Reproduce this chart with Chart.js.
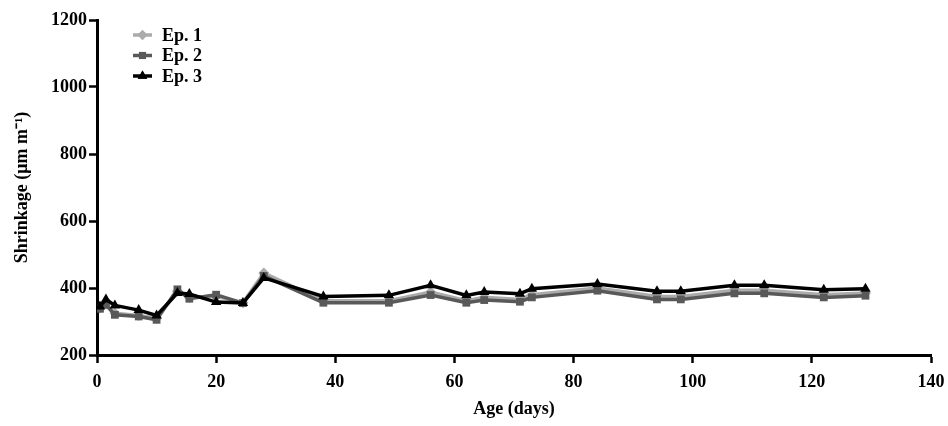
<!DOCTYPE html>
<html>
<head>
<meta charset="utf-8">
<script src="https://cdn.jsdelivr.net/npm/chart.js@4"></script>
<style>
html,body{margin:0;padding:0;background:#fff;}
canvas{display:block;}
</style>
</head>
<body>
<canvas id="c" width="948" height="426"></canvas>
<script>
const days = [0.5, 1.5, 3, 7, 10, 13.5, 15.5, 20, 24.5, 28, 38, 49, 56, 62, 65, 71, 73, 84, 94, 98, 107, 112, 122, 129];
const ep1 = [340, 352, 325, 318, 310, 390, 372, 375, 356, 445, 362, 362, 388, 362, 372, 366, 380, 400, 375, 375, 393, 393, 380, 385];
const ep2 = [338, 350, 320, 315, 305, 396, 368, 380, 355, 436, 356, 356, 379, 356, 364, 359, 372, 392, 366, 366, 384, 384, 372, 377];
const ep3 = [345, 366, 348, 334, 318, 385, 382, 358, 355, 430, 375, 378, 408, 378, 388, 383, 398, 412, 390, 390, 408, 408, 395, 398];
const seriesLabels = ['Ep. 1', 'Ep. 2', 'Ep. 3'];
const xTickValues = [0, 20, 40, 60, 80, 100, 120, 140];
const yTickValues = [200, 400, 600, 800, 1000, 1200];

const FONT = "'Liberation Serif', 'Times New Roman', serif";
const pts = (arr) => arr.map((v, i) => ({x: days[i], y: v}));

const styles = [
  {color: '#ababab', shape: 'rectRot', r: 5.5},
  {color: '#595959', shape: 'rect', r: 5.5},
  {color: '#000000', shape: 'triangle', r: 6}
];
const values = [ep1, ep2, ep3];

const datasets = values.map((arr, i) => ({
  label: seriesLabels[i],
  data: pts(arr),
  borderColor: styles[i].color,
  backgroundColor: styles[i].color,
  borderWidth: 3.5,
  pointStyle: styles[i].shape,
  pointRadius: styles[i].r,
  pointBorderWidth: 0,
  tension: 0,
  order: 3 - i
}));

const legendPlugin = {
  id: 'customLegend',
  afterDraw(chart) {
    const ctx = chart.ctx;
    ctx.save();
    chart.data.datasets.forEach((ds, i) => {
      const y = 35 + i * 20.5;
      const x0 = 133, x1 = 152;
      ctx.strokeStyle = ds.borderColor;
      ctx.lineWidth = 3.5;
      ctx.beginPath();
      ctx.moveTo(x0, y);
      ctx.lineTo(x1, y);
      ctx.stroke();
      ctx.fillStyle = ds.borderColor;
      ctx.beginPath();
      Chart.helpers.drawPoint(ctx, {pointStyle: ds.pointStyle, radius: ds.pointRadius - 0.5, borderWidth: 0}, (x0 + x1) / 2, y);
      ctx.fill();
      ctx.fillStyle = '#000';
      ctx.font = 'bold 18px ' + FONT;
      ctx.textBaseline = 'middle';
      ctx.textAlign = 'left';
      ctx.fillText(ds.label, 162, y + 1);
    });
    ctx.restore();
  }
};

new Chart(document.getElementById('c'), {
  type: 'line',
  data: {datasets},
  options: {
    responsive: false,
    animation: false,
    layout: {padding: {left: 0, right: 17, top: 20, bottom: 0}},
    plugins: {legend: {display: false}, tooltip: {enabled: false}},
    scales: {
      x: {
        type: 'linear',
        min: 0, max: 140,
        afterBuildTicks(scale) { scale.ticks = xTickValues.map(v => ({value: v})); },
        afterFit(scale) { scale.height = 71; scale.paddingLeft = 0; scale.paddingRight = 0; },
        grid: {display: true, drawOnChartArea: false, drawTicks: true, tickLength: 8, tickWidth: 2.5, color: '#000'},
        border: {display: true, color: '#000', width: 3},
        ticks: {color: '#000', font: {family: FONT, size: 18, weight: 'bold'}, padding: 9, maxRotation: 0, autoSkip: false, callback: v => String(v)},
        title: {display: true, text: 'Age (days)', color: '#000', font: {family: FONT, size: 18, weight: 'bold'}, padding: {top: 0, bottom: 6}}
      },
      y: {
        min: 200, max: 1200,
        afterBuildTicks(scale) { scale.ticks = yTickValues.map(v => ({value: v})); },
        afterFit(scale) { scale.width = 97; scale.paddingTop = 0; scale.paddingBottom = 0; },
        grid: {display: true, drawOnChartArea: false, drawTicks: true, tickLength: 8, tickWidth: 2.5, color: '#000'},
        border: {display: true, color: '#000', width: 3},
        ticks: {color: '#000', font: {family: FONT, size: 18, weight: 'bold'}, padding: 2, autoSkip: false, callback: v => String(v)},
        title: {display: true, text: 'Shrinkage (\u03bcm m\u207b\u00b9)', color: '#000', font: {family: FONT, size: 18, weight: 'bold'}, padding: {top: 12, bottom: 0}}
      }
    }
  },
  plugins: [legendPlugin]
});
</script>
</body>
</html>
